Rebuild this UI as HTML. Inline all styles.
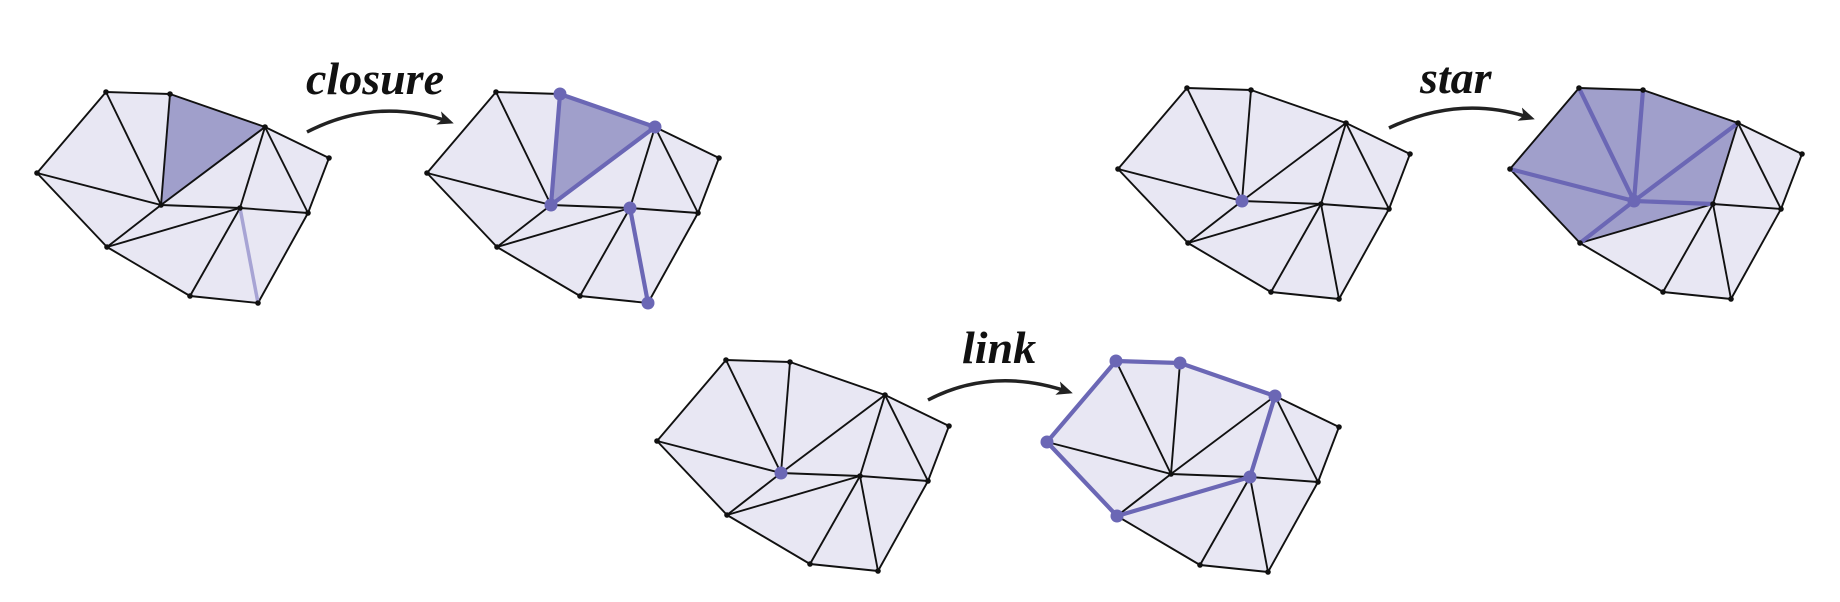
<!DOCTYPE html>
<html><head><meta charset="utf-8">
<style>
html,body{margin:0;padding:0;background:#fff;}
svg{display:block;}
text{font-family:"Liberation Serif",serif;font-weight:bold;font-style:italic;fill:#111;}
</style></head>
<body>
<svg id="fig" width="1840" height="602" viewBox="0 0 1840 602" xmlns="http://www.w3.org/2000/svg">
<defs>
<marker id="ah" markerWidth="16" markerHeight="14" refX="12" refY="7" orient="auto" markerUnits="userSpaceOnUse">
<path d="M0,0 L16,7 L0,14 L4,7 Z" fill="#222"/>
</marker>
</defs>
<g>
<path d="M307,132 Q377,96 450,122" fill="none" stroke="#222" stroke-width="3.5" marker-end="url(#ah)"/>
<text x="306" y="94" font-size="46">closure</text>
</g>
<g>
<path d="M1389,128 Q1460,94 1531,118" fill="none" stroke="#222" stroke-width="3.5" marker-end="url(#ah)"/>
<text x="1420" y="93" font-size="46">star</text>
</g>
<g>
<path d="M928,400 Q993,366 1069,392" fill="none" stroke="#222" stroke-width="3.5" marker-end="url(#ah)"/>
<text x="962" y="363" font-size="46">link</text>
</g>
<g id="meshes"></g>
</svg>
<script>
// base mesh vertices (A..K)
const vx = [106,170,265,329,37,161,240,308,107,190,258];
const vy = [92,94,127,158,173,205,208,213,247,296,303];
const edges = [[0,1],[1,2],[2,3],[0,4],[0,5],[1,5],[2,5],[2,6],[2,7],[3,7],[4,5],[4,8],[5,6],[5,8],[6,8],[6,7],[8,9],[6,9],[6,10],[7,10],[9,10]];
const tris = [[0,4,5],[0,1,5],[1,2,5],[2,5,6],[2,6,7],[2,3,7],[4,5,8],[5,6,8],[6,8,9],[6,9,10],[6,7,10]];
const meshNames = ['closure-input','closure-output','star-input','star-output','link-input','link-output'];
const offX = [0,390,1081,1473,620,1010];
const offY = [0,0,-4,-4,268,269];
const fillTris = [[2],[2],[],[0,1,2,3,6,7],[],[]];
const hiEdges = [[],[[1,2],[2,5],[5,1],[6,10]],[],[[5,0],[5,1],[5,2],[5,6],[5,8],[5,4]],[],[[0,1],[1,2],[2,6],[6,8],[8,4],[4,0]]];
const hiVerts = [[],[1,2,5,6,10],[5],[5],[5],[0,1,2,6,8,4]];
const lightEdges = [[[6,10]],[],[],[],[],[]];

const NS='http://www.w3.org/2000/svg';
const root=document.getElementById('meshes');
function mk(tag,attrs,parent){const e=document.createElementNS(NS,tag);for(const k in attrs)e.setAttribute(k,attrs[k]);parent.appendChild(e);return e;}
for(let m=0;m<meshNames.length;m++){
  const g=mk('g',{},root);
  
  
  const X=i=>vx[i]+offX[m], Y=i=>vy[i]+offY[m];
  tris.forEach((t,ti)=>{
    const p=mk('polygon',{points:t.map(i=>X(i)+','+Y(i)).join(' '),fill:fillTris[m].includes(ti)?'#a09fcb':'#e8e7f3',stroke:fillTris[m].includes(ti)?'#a09fcb':'#e8e7f3','stroke-width':0.8},g);
    
    
  });
  edges.forEach(e=>{
    const l=mk('line',{x1:X(e[0]),y1:Y(e[0]),x2:X(e[1]),y2:Y(e[1]),stroke:'#111','stroke-width':1.9},g);
    
    
  });
  lightEdges[m].forEach(e=>{
    const l=mk('line',{x1:X(e[0]),y1:Y(e[0]),x2:X(e[1]),y2:Y(e[1]),stroke:'#a7a4d4','stroke-width':3.5},g);
    
    
  });
  hiEdges[m].forEach(e=>{
    const l=mk('line',{x1:X(e[0]),y1:Y(e[0]),x2:X(e[1]),y2:Y(e[1]),stroke:'#6b67b5','stroke-width':4.2,'stroke-linecap':'round'},g);
    
    
  });
  for(let i=0;i<vx.length;i++){
    const hi=hiVerts[m].includes(i);
    const c=mk('circle',{cx:X(i),cy:Y(i),r:hi?6.5:2.8,fill:hi?'#6b67b5':'#111'},g);
    
    
  }
}
</script>
</body></html>
